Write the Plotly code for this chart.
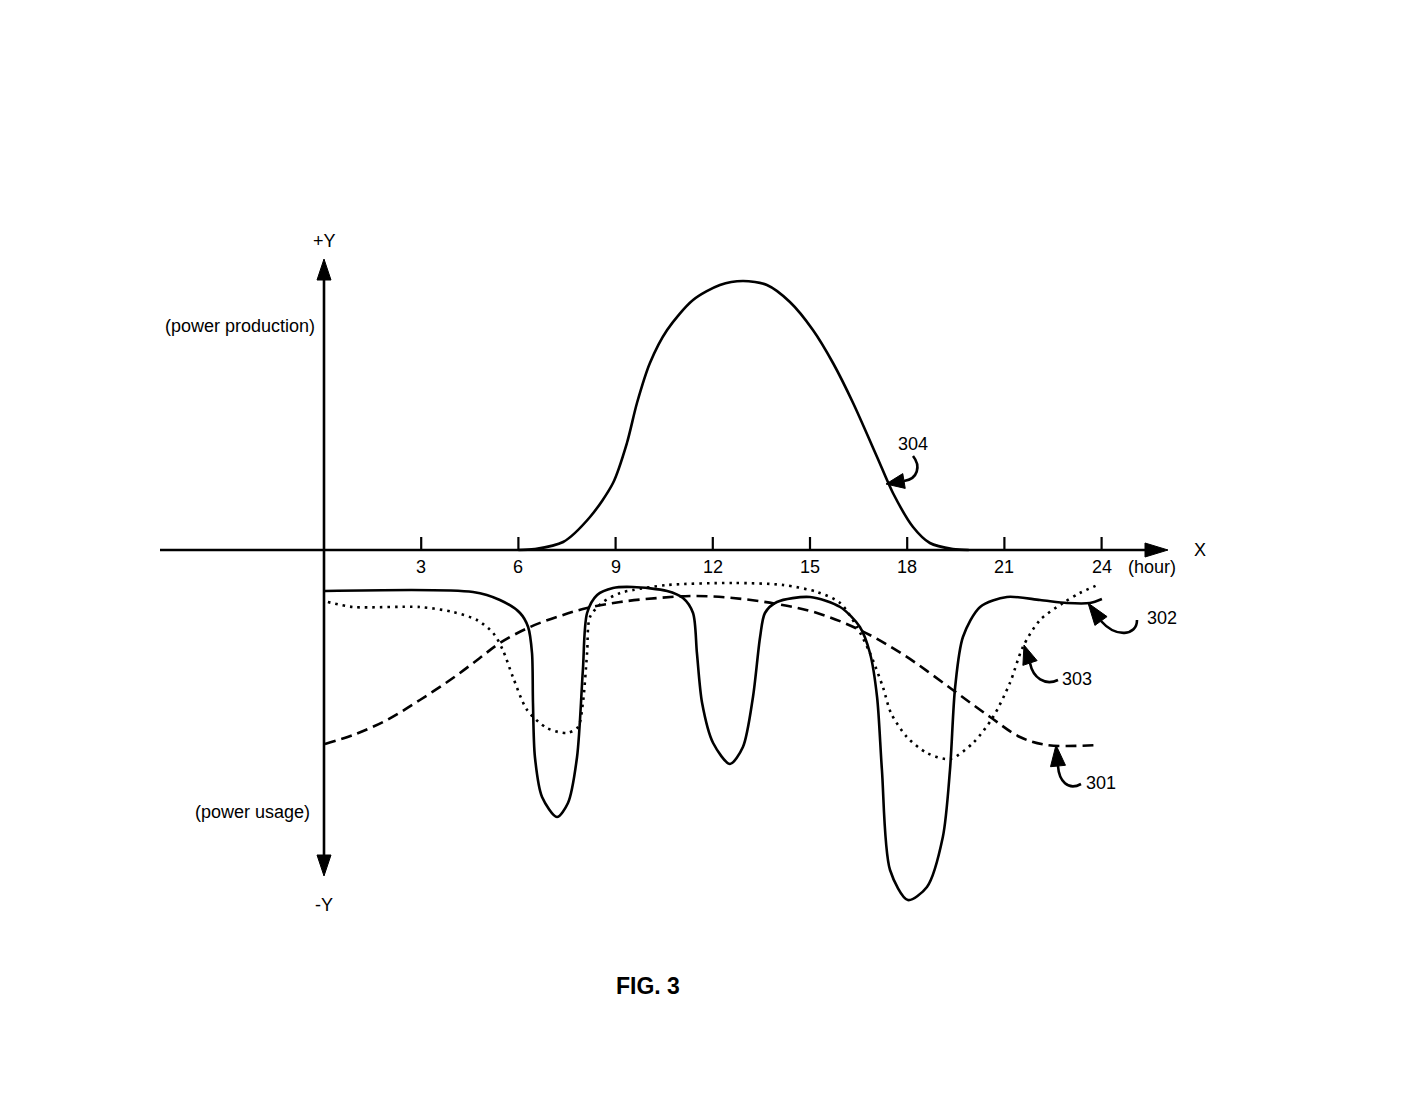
import plotly.graph_objects as go

# ---------------- data (hours, relative power; + = production, - = usage) -------------
hours_304 = [6.0, 6.5, 7.38, 8.21, 8.92, 9.35, 9.66, 10.06, 10.59, 11.39, 12.22, 12.93,
             13.67, 14.38, 15.09, 15.71, 16.33, 17.07, 17.56, 18.18, 18.70, 19.41, 19.9]
prod_304 = [0, 1, 8, 33, 67, 107, 147, 187, 220, 250, 265, 269,
            265, 248, 220, 187, 147, 93, 57, 23, 7, 1, 0]

hours_302 = [0.03, 4.60, 5.43, 6.05, 6.30, 6.42, 6.45, 6.51, 6.73, 7.19, 7.53, 7.81, 7.99,
             8.12, 8.43, 8.92, 9.54, 10.59, 11.08, 11.39, 11.51, 11.67, 12.01, 12.53,
             12.93, 13.24, 13.46, 13.61, 13.98, 15.0, 15.93, 16.54, 16.85, 17.07, 17.22,
             17.47, 18.02, 18.61, 19.10, 19.32, 19.48, 19.72, 20.25, 21.08, 22.10, 22.93,
             23.64, 24.01]
use_302 = [-41, -42, -50, -63, -77, -103, -153, -207, -247, -267, -253, -207, -120,
           -63, -45, -38, -37, -41, -48, -63, -103, -153, -193, -214,
           -197, -147, -87, -63, -52, -47, -57, -77, -103, -147, -220,
           -320, -350, -337, -287, -220, -137, -87, -57, -47, -50, -53,
           -53, -49]

hours_303 = [0.12, 0.90, 2.96, 3.98, 4.72, 5.22, 5.52, 5.83, 6.27, 6.88, 7.50, 7.84, 7.99,
             8.12, 8.21, 8.61, 9.14, 9.54, 10.59, 12.62, 14.17, 15.22, 15.93, 16.45,
             16.85, 17.25, 17.5, 17.99, 18.61, 19.32, 20.03, 20.65, 21.17, 21.57, 22.10,
             22.81, 23.33, 23.95]
use_303 = [-52, -57, -57, -62, -70, -83, -100, -127, -160, -178, -183, -177, -153,
           -103, -67, -52, -43, -40, -35, -33, -35, -42, -53, -77,
           -103, -137, -163, -187, -203, -209, -193, -167, -133, -97, -70,
           -53, -43, -34]

hours_301 = [0.03, 0.90, 1.94, 2.96, 3.98, 4.81, 5.43, 6.36, 7.28, 8.12, 9.14,
             10.3, 11.4, 12.62, 13.98, 15.22, 16.54, 17.9, 19.41, 20.56, 21.48, 22.31, 23.89]
use_301 = [-194, -185, -170, -150, -128, -108, -93, -77, -66, -58, -52,
           -48, -46, -48, -54, -63, -80, -105, -140, -167, -187, -195, -195]

tick_hours = [3, 6, 9, 12, 15, 18, 21, 24]
tick_labels = ["3", "6", "9", "12", "15", "18", "21", "24"]

# ---------------- geometry helpers (screen pixel -> data) ----------------
W, H = 1426, 1102
OFF = 8  # page body margin
X0PX, PXH, Y0PX = 324, 32.4, 550


def hx(px):
    return (px - X0PX) / PXH


def vy(py):
    return Y0PX - py


def pt(px, py):
    return f"{hx(px):.4f},{vy(py):.4f}"


FONT = "Liberation Sans Narrow, Arial Narrow, Liberation Sans, Arial, sans-serif"
FS = 18
BLACK = "#000000"

fig = go.Figure()

line_style = dict(color=BLACK, width=2.6, shape="spline", smoothing=0.8)
soft_style = dict(color=BLACK, width=2.6, shape="spline", smoothing=1.0)
fig.add_trace(go.Scatter(x=hours_301, y=use_301, mode="lines",
                         line=dict(soft_style, dash="11px,6px"), name="301"))
fig.add_trace(go.Scatter(x=hours_303, y=use_303, mode="lines",
                         line=dict(line_style, dash="2.5px,5px"), name="303"))
fig.add_trace(go.Scatter(x=hours_302, y=use_302, mode="lines",
                         line=line_style, name="302"))
fig.add_trace(go.Scatter(x=hours_304, y=prod_304, mode="lines",
                         line=line_style, name="304"))

shapes = []
annos = []

# axes lines
shapes.append(dict(type="line", xref="x", yref="y", x0=hx(160), y0=0, x1=hx(1148), y1=0,
                   line=dict(color=BLACK, width=2.6)))
shapes.append(dict(type="line", xref="x", yref="y", x0=0, y0=vy(276), x1=0, y1=vy(858),
                   line=dict(color=BLACK, width=2.6)))


def tri(tip, base, half=7):
    (tx, ty), (bx, by) = tip, base
    dx, dy = tx - bx, ty - by
    L = (dx * dx + dy * dy) ** 0.5
    nx, ny = -dy / L * half, dx / L * half
    return f"M {pt(tx, ty)} L {pt(bx + nx, by + ny)} L {pt(bx - nx, by - ny)} Z"


for tip, base in [((324, 259), (324, 280)), ((324, 876), (324, 855)), ((1168, 550), (1145, 550))]:
    shapes.append(dict(type="path", xref="x", yref="y", path=tri(tip, base),
                       fillcolor=BLACK, line=dict(color=BLACK, width=1)))

# ticks and tick labels
for h, lab in zip(tick_hours, tick_labels):
    shapes.append(dict(type="line", xref="x", yref="y", x0=h, y0=vy(537), x1=h, y1=0,
                       line=dict(color=BLACK, width=2.2)))
    annos.append(dict(x=h, y=vy(567), text=lab, showarrow=False, xref="x", yref="y",
                      font=dict(size=FS, color=BLACK, family=FONT)))

annos.append(dict(x=hx(1152), y=vy(567), text="(hour)", showarrow=False, xref="x", yref="y",
                  font=dict(size=FS, color=BLACK, family=FONT)))
annos.append(dict(x=hx(1200), y=vy(550), text="X", showarrow=False, xref="x", yref="y",
                  font=dict(size=FS, color=BLACK, family=FONT)))
annos.append(dict(x=0, y=vy(241), text="+Y", showarrow=False, xref="x", yref="y",
                  font=dict(size=FS, color=BLACK, family=FONT)))
annos.append(dict(x=0, y=vy(905), text="-Y", showarrow=False, xref="x", yref="y",
                  font=dict(size=FS, color=BLACK, family=FONT)))
annos.append(dict(x=hx(317), y=vy(326), text="(power production)", showarrow=False,
                  xref="x", yref="y", xanchor="right",
                  font=dict(size=FS, color=BLACK, family=FONT)))
annos.append(dict(x=hx(312), y=vy(812), text="(power usage)", showarrow=False,
                  xref="x", yref="y", xanchor="right",
                  font=dict(size=FS, color=BLACK, family=FONT)))
annos.append(dict(x=hx(648), y=vy(986), text="<b>FIG. 3</b>", showarrow=False,
                  xref="x", yref="y",
                  font=dict(size=23, color=BLACK, family=FONT)))

# reference numerals with curved pointer arrows
callouts = [
    ("304", (913, 444), [(913, 456), (921, 466), (918, 479), (904, 481)], (886, 484)),
    ("302", (1162, 618), [(1137, 620), (1137, 636), (1116, 638), (1101, 621)], (1088, 603)),
    ("303", (1077, 679), [(1058, 680), (1045, 686), (1033, 678), (1030, 663)], (1024, 645)),
    ("301", (1101, 783), [(1081, 784), (1068, 791), (1059, 781), (1058, 766)], (1056, 745)),
]
for txt, (tx, ty), bez, tip in callouts:
    annos.append(dict(x=hx(tx), y=vy(ty), text=txt, showarrow=False, xref="x", yref="y",
                      font=dict(size=FS, color=BLACK, family=FONT)))
    p0, c1, c2, p3 = bez
    shapes.append(dict(type="path", xref="x", yref="y",
                       path=f"M {pt(*p0)} C {pt(*c1)} {pt(*c2)} {pt(*p3)}",
                       line=dict(color=BLACK, width=2.6)))
    shapes.append(dict(type="path", xref="x", yref="y", path=tri(tip, p3, 7.5),
                       fillcolor=BLACK, line=dict(color=BLACK, width=1)))

fig.update_layout(
    width=W, height=H,
    margin=dict(l=0, r=0, t=0, b=0),
    paper_bgcolor="white", plot_bgcolor="white",
    showlegend=False,
    xaxis=dict(range=[hx(OFF), hx(W + OFF)], visible=False, fixedrange=True),
    yaxis=dict(range=[vy(H + OFF), vy(OFF)], visible=False, fixedrange=True),
    shapes=shapes, annotations=annos,
)

fig.write_html("out.html")
